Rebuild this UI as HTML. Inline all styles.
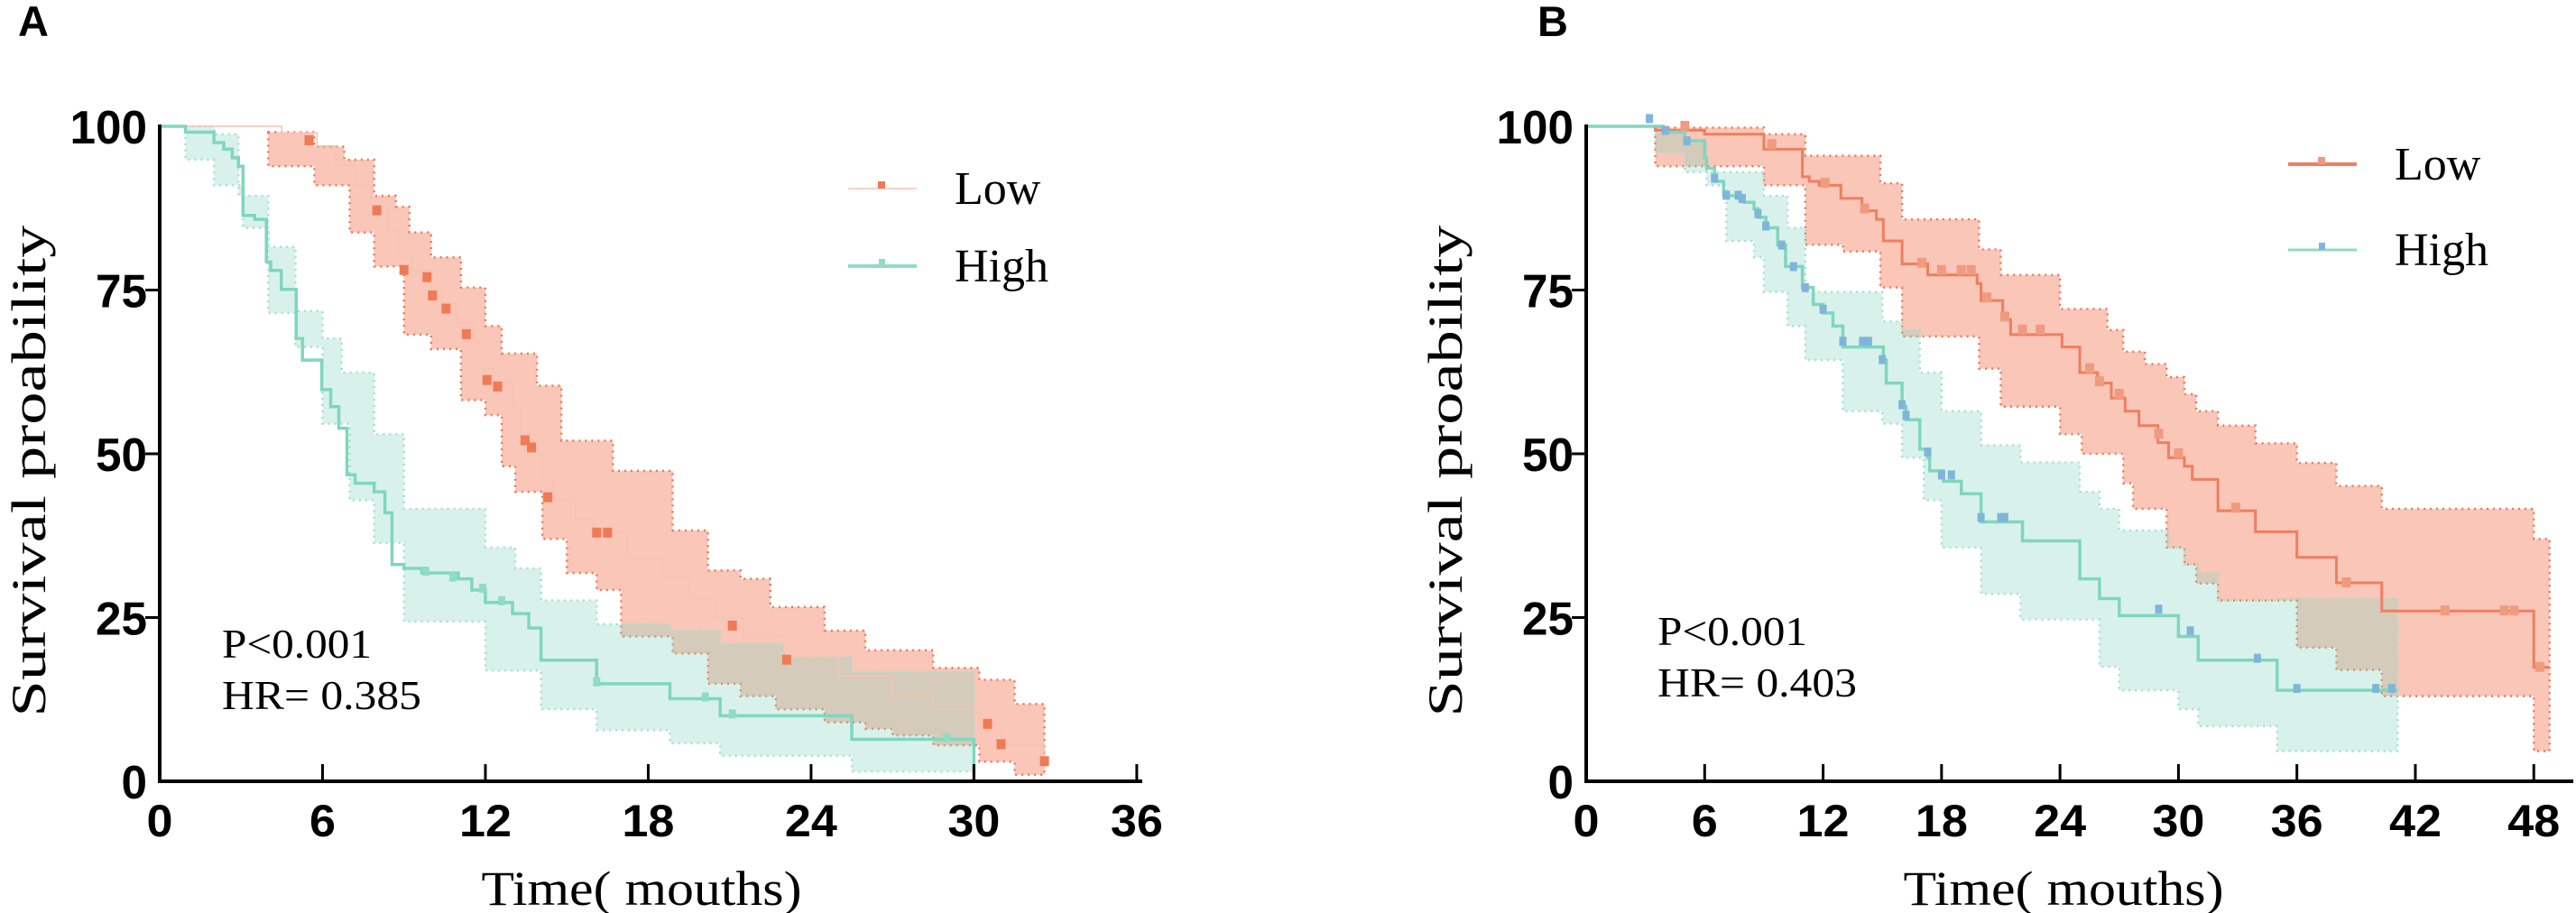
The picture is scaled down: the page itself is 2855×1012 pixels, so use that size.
<!DOCTYPE html>
<html><head><meta charset="utf-8"><style>
html,body{margin:0;padding:0;background:#fff;}
svg{display:block;}
</style></head>
<body>
<svg id="fig" width="2855" height="1012" viewBox="0 0 2855 1012" xmlns="http://www.w3.org/2000/svg">
<text x="20" y="40" font-family="Liberation Sans, sans-serif" font-weight="bold" font-size="47">A</text>
<text x="1704" y="40" font-family="Liberation Sans, sans-serif" font-weight="bold" font-size="47">B</text>
<g id="pa"></g>
<g id="pb"></g>
</svg>
<script>
// ---------- Panel A data ----------
const aXTicks = [0, 6, 12, 18, 24, 30, 36];
const aYTicks = [0, 25, 50, 75, 100];
const aLowT  = [0, 4.5, 5.8, 6.5, 7.2, 7.8, 8.4, 8.8, 9.3, 10.0, 10.4, 10.9, 11.6, 11.9, 12.3, 13.0, 13.3, 13.8, 14.1, 14.5, 15.3, 16.0, 17.2, 18.5, 19.5, 20.5, 21.5, 23.0, 25.0, 27.0, 28.5, 30.2, 31.0, 32.6];
const aLowS  = [100, 99, 97, 94, 91, 88, 84, 80, 78, 75, 73, 70, 67, 63, 61, 57, 53, 50, 46, 43, 40, 38, 34, 31, 28, 25, 22, 19, 16, 13, 11, 8.7, 5.6, 3];
const aLowBandT = [4.0, 5.7, 6.8, 7.0, 7.9, 8.7, 9.0, 9.2, 10.0, 11.1, 12.0, 12.6, 13.1, 13.9, 14.1, 14.8, 15.0, 16.1, 16.7, 17.0, 18.9, 20.2, 21.4, 22.5, 22.7, 24.5, 26.0, 27.0, 28.5, 30.2, 31.5];
const aLowU  = [99.1, 96.9, 94.9, 94.9, 89.4, 87.7, 87.7, 83.8, 80, 75.4, 69.5, 65.3, 65.3, 60.4, 60.4, 52, 52, 52, 47.4, 47.4, 38.3, 32.2, 30.9, 26.6, 26.6, 23, 20, 20, 17.3, 15.5, 11.8];
const aLowL  = [93.9, 91, 91, 83.8, 78.6, 78.6, 68.2, 68.2, 66, 58.2, 55.9, 48.1, 44.2, 44.2, 37, 37, 31.8, 29.2, 29.2, 22.1, 19.5, 14.9, 13, 13, 11, 9, 8, 7, 5.5, 3, 1];
const aLowMarkT = [5.5, 8.0, 9.0, 9.85, 10.05, 10.55, 11.3, 12.06, 12.45, 13.46, 13.7, 14.3, 16.1, 16.5, 21.1, 23.1, 30.5, 31.0, 32.6];
const aLowMarkS = [97.8, 87.1, 78, 76.9, 74.1, 72.1, 68.2, 61.2, 60.2, 52, 50.9, 43.3, 37.9, 37.9, 23.7, 18.5, 8.7, 5.6, 3.0];
const aHighT = [0, 0.95, 2.0, 2.36, 2.67, 2.9, 3.07, 3.5, 3.93, 4.09, 4.48, 5.03, 5.26, 5.97, 6.3, 6.6, 6.9, 7.2, 7.9, 8.3, 8.56, 9.0, 9.66, 11.0, 11.5, 12.0, 13.0, 13.6, 14.05, 16.1, 18.8, 20.65, 25.5, 30.0];
const aHighS = [100, 99.1, 97.5, 96.5, 95.2, 93.9, 86.4, 85.8, 79.3, 78, 75.1, 67.6, 64.3, 59.8, 57.2, 53.9, 46.8, 45.5, 44.2, 41, 33.1, 32.5, 31.8, 30.9, 29.2, 27.3, 25.6, 23.4, 18.5, 14.9, 12.6, 10.0, 6.4, 0];
const aHighBandT = [0.95, 2.0, 2.9, 3.07, 4.0, 5.0, 6.0, 6.7, 7.0, 7.9, 9.0, 12.0, 13.1, 14.05, 16.1, 18.8, 20.65, 23.0, 25.5];
const aHighU = [100, 98.8, 89.4, 89.4, 81.6, 71.8, 67.6, 62.4, 62.4, 53, 41.6, 35.7, 32.5, 27.6, 24, 23, 21, 19, 16.7];
const aHighL = [94.9, 91, 91, 84.5, 71.5, 66.3, 54.6, 54.6, 42.9, 36.4, 24.4, 16.9, 16.9, 11, 7.8, 5.8, 3.9, 3.9, 1.5];
const aHighMarkT = [9.8, 10.8, 11.9, 12.6, 16.1, 20.1, 21.1, 29.0];
const aHighMarkS = [31.8, 30.9, 29.2, 27.3, 14.9, 12.6, 10.0, 6.4];
// ---------- Panel B data ----------
const bXTicks = [0, 6, 12, 18, 24, 30, 36, 42, 48];
const bYTicks = [0, 25, 50, 75, 100];
const bLowT = [0, 3.5, 6.0, 9.0, 10.95, 11.3, 11.8, 12.9, 13.97, 14.7, 15.05, 16.0, 17.3, 19.8, 20.0, 21.1, 21.5, 24.1, 25.0, 25.9, 26.6, 27.3, 28.0, 28.96, 29.5, 30.3, 30.7, 32.0, 33.9, 36.0, 38.0, 40.3, 48.0];
const bLowS = [100, 99.4, 98.8, 96.5, 92.3, 91.6, 91, 89, 87.1, 85.8, 82.5, 79, 77.3, 76, 73.4, 70.5, 68.2, 66.3, 62.4, 60.8, 58.5, 56.5, 54.3, 51.7, 49.4, 48.1, 46.1, 41.3, 38.1, 34.2, 30.3, 26, 17.4];
const bLowBandT = [3.5, 9.0, 11.1, 13.0, 14.9, 16.0, 19.9, 21.0, 24.0, 25.1, 26.4, 27.2, 27.7, 28.3, 29.4, 30.3, 30.9, 32.0, 33.9, 36.0, 38.0, 40.3, 48.0];
const bLowU = [99.8, 98.8, 95.5, 95.5, 91.3, 85.8, 81.2, 77.3, 72.1, 72.1, 68.9, 65.6, 65.6, 63.7, 61.7, 59.1, 56.5, 54.3, 51.6, 48.6, 45.1, 41.6, 37];
const bLowL = [93.9, 91, 81.9, 80.9, 75.4, 67.9, 63, 57.2, 53, 50, 50, 45.5, 41.6, 41.6, 35.7, 33.1, 30.2, 27.6, 27.6, 20.4, 17, 13, 4.6];
const bLowMarkT = [5.0, 9.4, 12.1, 14.1, 17.0, 18.0, 19.0, 19.5, 20.3, 21.2, 22.1, 23.0, 25.5, 26.0, 27.0, 29.0, 30.0, 32.9, 38.5, 43.5, 46.5, 47.0, 48.3];
const bLowMarkS = [100, 97.2, 91.3, 87.4, 79.1, 78, 78, 78, 73.8, 70.9, 68.9, 68.9, 63, 61, 59.1, 53, 50, 41.7, 30.3, 26, 26, 26, 17.4];
const bHighT = [0, 3.9, 5.0, 6.0, 6.1, 6.5, 6.96, 8.0, 8.5, 8.7, 9.1, 9.7, 10.1, 10.95, 11.5, 12.0, 12.5, 13.0, 15.05, 15.2, 16.0, 16.2, 16.9, 17.3, 17.4, 18.1, 19.0, 20.0, 22.1, 25.0, 26.0, 27.0, 30.0, 31.0, 35.0];
const bHighS = [100, 99.1, 97.8, 95.2, 93.6, 91.6, 89.4, 88.4, 87.4, 86.1, 84.5, 81.9, 78.6, 75.4, 72.8, 71.5, 69.5, 66.3, 64.3, 60.8, 57.2, 55.2, 50.7, 49.4, 47.4, 45.8, 43.9, 39.6, 36.7, 30.9, 27.9, 25.3, 22.1, 18.5, 13.9];
const bHighBandT = [3.5, 5.0, 6.1, 7.1, 8.5, 9.0, 10.2, 11.1, 13.0, 15.0, 16.0, 16.9, 17.1, 18.0, 20.0, 22.0, 25.0, 26.0, 27.0, 29.5, 30.0, 30.3, 31.0, 32.0, 35.0];
const bHighU = [99, 97.5, 93, 93, 93, 89.4, 84.5, 74.7, 74.7, 70.2, 68.9, 62.4, 62.4, 56.5, 51.3, 48.7, 44.2, 41.6, 38.3, 35.7, 35.7, 33.1, 31.8, 27.6, 27.9];
const bHighL = [96, 93, 91, 82.5, 80, 74.7, 69.5, 64.3, 56.5, 54.6, 49.4, 49.4, 42.9, 35.7, 28.6, 24.7, 24.7, 17.5, 13.9, 13.9, 11, 11, 8.4, 8.4, 4.6];
const bHighMarkT = [3.2, 4.0, 5.1, 6.5, 7.1, 7.7, 7.9, 8.7, 9.1, 9.9, 10.5, 11.1, 12.0, 13.0, 14.0, 14.3, 15.0, 16.0, 16.2, 17.3, 18.0, 18.5, 20.0, 21.0, 21.2, 29.0, 30.6, 34.0, 36.0, 40.0, 40.8];
const bHighMarkS = [100.9, 99.1, 97.5, 91.8, 89.2, 89.2, 88.7, 86.4, 84.5, 81.6, 78.3, 75.1, 71.8, 66.9, 66.9, 66.9, 64.1, 57.2, 55.6, 50, 46.5, 46.5, 40, 40, 40, 26, 22.7, 18.5, 13.9, 13.9, 13.9];

const NS = 'http://www.w3.org/2000/svg';
function mk(parent, tag, attrs, text) {
  const el = document.createElementNS(NS, tag);
  for (const k in attrs) el.setAttribute(k, attrs[k]);
  if (text !== undefined) el.textContent = text;
  parent.appendChild(el);
  return el;
}
function stepD(ts, vs, tEnd, X, Y) {
  let d = 'M' + X(ts[0]) + ' ' + Y(vs[0]);
  for (let i = 1; i < ts.length; i++) d += ' H' + X(ts[i]) + ' V' + Y(vs[i]);
  d += ' H' + X(tEnd);
  return d;
}
function bandD(ts, up, lo, tEnd, X, Y) {
  let d = 'M' + X(ts[0]) + ' ' + Y(up[0]);
  for (let i = 1; i < ts.length; i++) d += ' H' + X(ts[i]) + ' V' + Y(up[i]);
  d += ' H' + X(tEnd) + ' V' + Y(lo[lo.length - 1]);
  for (let i = ts.length - 1; i >= 1; i--) d += ' H' + X(ts[i]) + ' V' + Y(lo[i - 1]);
  d += ' H' + X(ts[0]) + ' Z';
  return d;
}

function panel(g, cfg) {
  const X = t => cfg.x0 + t * cfg.pxPerMonth;
  const Y = s => cfg.y0 - s * cfg.pxPerPct;
  const bl = mk(g, 'path', {d: bandD(cfg.lowBT, cfg.lowU, cfg.lowL, cfg.lowEnd, X, Y), fill: 'rgba(241,128,95,0.45)', stroke: '#ea7a5c', 'stroke-width': 2.5, 'stroke-dasharray': '2 5'});
  
  
  const bh = mk(g, 'path', {d: bandD(cfg.highBT, cfg.highU, cfg.highL, cfg.highEnd, X, Y), fill: 'rgba(135,215,192,0.32)', stroke: '#a5e0cf', 'stroke-width': 2.5, 'stroke-dasharray': '2 5'});
  
  
  const ll = mk(g, 'path', {d: stepD(cfg.lowT, cfg.lowS, cfg.lowEnd, X, Y), fill: 'none', stroke: cfg.lowLine, 'stroke-width': cfg.lowW});
  
  
  const hl = mk(g, 'path', {d: stepD(cfg.highT, cfg.highS, cfg.highEnd, X, Y), fill: 'none', stroke: '#7fd6bf', 'stroke-width': 3.5});
  
  
  cfg.lowMT.forEach((t, i) => {
    const m = mk(g, 'rect', {x: X(t) - 5, y: Y(cfg.lowMS[i]) - 6, width: 10, height: 11, fill: cfg.lowMark});
    
    
  });
  cfg.highMT.forEach((t, i) => {
    const m = mk(g, 'rect', {x: X(t) - 4, y: Y(cfg.highMS[i]) - 7, width: 8, height: 10, fill: cfg.highMark});
    
    
  });
  const ya = mk(g, 'line', {x1: cfg.x0, y1: Y(100) - 2, x2: cfg.x0, y2: cfg.y0, stroke: '#000', 'stroke-width': 4});
  
  
  const xa = mk(g, 'line', {x1: cfg.x0 - 2, y1: cfg.y0, x2: cfg.xAxisEnd, y2: cfg.y0, stroke: '#000', 'stroke-width': 4});
  
  
  cfg.yTicks.forEach(v => {
    if (v !== 0 && v !== 100) {
      const tk = mk(g, 'line', {x1: cfg.x0 - 16, y1: Y(v), x2: cfg.x0, y2: Y(v), stroke: '#000', 'stroke-width': 3});
      
      
    }
    const lbl = mk(g, 'text', {x: cfg.x0 - 14, y: Y(v) + 19, 'text-anchor': 'end', 'font-family': 'Liberation Sans Narrow, Liberation Sans, sans-serif', 'font-weight': 'bold', 'font-size': 52, textLength: String(v).length * 28.5, lengthAdjust: 'spacingAndGlyphs'}, String(v));
    
    
  });
  cfg.xTicks.forEach(v => {
    if (v !== 0) {
      const tk = mk(g, 'line', {x1: X(v), y1: cfg.y0, x2: X(v), y2: cfg.y0 - 19, stroke: '#000', 'stroke-width': 3});
      
      
    }
    const lbl = mk(g, 'text', {x: X(v), y: cfg.y0 + 61, 'text-anchor': 'middle', 'font-family': 'Liberation Sans Narrow, Liberation Sans, sans-serif', 'font-weight': 'bold', 'font-size': 50, textLength: String(v).length * 29, lengthAdjust: 'spacingAndGlyphs'}, String(v));
    
    
  });
  const serif = 'Liberation Serif, serif';
  const xt = mk(g, 'text', {x: cfg.xTitleX, y: 1003, 'text-anchor': 'middle', 'font-family': serif, 'font-size': 54, textLength: 355, lengthAdjust: 'spacingAndGlyphs'}, 'Time( mouths)');
  
  
  const yt = mk(g, 'text', {x: 0, y: 0, transform: 'translate(' + cfg.yTitleX + ',522) rotate(-90)', 'text-anchor': 'middle', 'font-family': serif, 'font-size': 54, textLength: 545, lengthAdjust: 'spacingAndGlyphs'}, 'Survival proability');
  
  
  const p = mk(g, 'text', {x: cfg.statX, y: cfg.pY, 'font-family': serif, 'font-size': 46, textLength: 166, lengthAdjust: 'spacingAndGlyphs'}, 'P<0.001');
  
  
  const hr = mk(g, 'text', {x: cfg.statX, y: cfg.pY + 57, 'font-family': serif, 'font-size': 46, textLength: 221, lengthAdjust: 'spacingAndGlyphs'}, cfg.hr);
  
  
  const lg = mk(g, 'g', {});
  
  
  const e1 = mk(lg, 'g', {});
  
  
  mk(e1, 'line', {x1: cfg.legX, y1: cfg.legY1, x2: cfg.legX + 76, y2: cfg.legY1, stroke: cfg.lowLine, 'stroke-width': cfg.legLowW});
  mk(e1, 'rect', {x: cfg.legX + 33, y: cfg.legY1 - 8, width: 8, height: 8, fill: cfg.lowMark});
  mk(e1, 'text', {x: cfg.legX + 118, y: cfg.legY1 + 17, 'font-family': serif, 'font-size': 52}, 'Low');
  const e2 = mk(lg, 'g', {});
  
  
  mk(e2, 'line', {x1: cfg.legX, y1: cfg.legY2, x2: cfg.legX + 76, y2: cfg.legY2, stroke: '#8fdcc6', 'stroke-width': cfg.legHighW});
  mk(e2, 'rect', {x: cfg.legX + 34, y: cfg.legY2 - 8, width: 7, height: 8, fill: cfg.highMark});
  mk(e2, 'text', {x: cfg.legX + 118, y: cfg.legY2 + 17, 'font-family': serif, 'font-size': 52}, 'High');
}

panel(document.getElementById('pa'), {
  x0: 177, y0: 866, pxPerMonth: 30.08, pxPerPct: 7.26, xAxisEnd: 1266,
  xTicks: aXTicks, yTicks: aYTicks,
  lowT: aLowT, lowS: aLowS, lowBT: aLowBandT, lowU: aLowU, lowL: aLowL, lowEnd: 32.6,
  highT: aHighT, highS: aHighS, highBT: aHighBandT, highU: aHighU, highL: aHighL, highEnd: 30.0,
  lowMT: aLowMarkT, lowMS: aLowMarkS, highMT: aHighMarkT, highMS: aHighMarkS,
  lowLine: '#f6c3b3', lowW: 1.5, lowMark: '#f07a55', highMark: '#8fdcc6',
  xTitleX: 711, yTitleX: 50, statX: 246, pY: 729, hr: 'HR= 0.385',
  legX: 940, legY1: 209, legY2: 295, legLowW: 1.5, legHighW: 4
});
panel(document.getElementById('pb'), {
  x0: 1758, y0: 866, pxPerMonth: 21.88, pxPerPct: 7.26, xAxisEnd: 2852,
  xTicks: bXTicks, yTicks: bYTicks,
  lowT: bLowT, lowS: bLowS, lowBT: bLowBandT, lowU: bLowU, lowL: bLowL, lowEnd: 48.8,
  highT: bHighT, highS: bHighS, highBT: bHighBandT, highU: bHighU, highL: bHighL, highEnd: 41.1,
  lowMT: bLowMarkT, lowMS: bLowMarkS, highMT: bHighMarkT, highMS: bHighMarkS,
  lowLine: '#ee7f60', lowW: 3, lowMark: '#f09a80', highMark: '#7fb5da',
  xTitleX: 2287, yTitleX: 1620, statX: 1837, pY: 715, hr: 'HR= 0.403',
  legX: 2536, legY1: 182, legY2: 277, legLowW: 4, legHighW: 3
});
</script>
</body></html>
